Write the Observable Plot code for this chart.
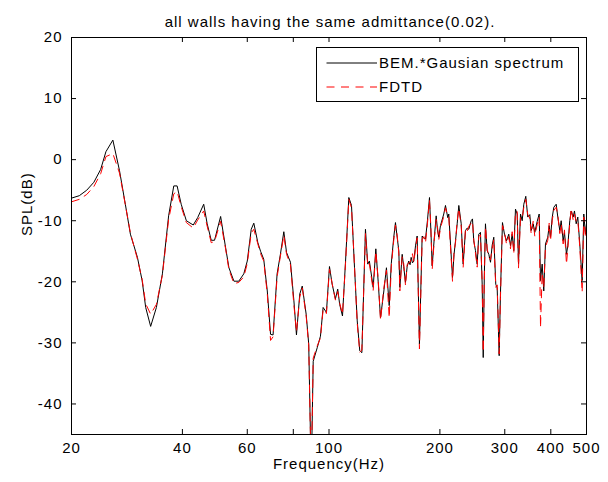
<!DOCTYPE html>
<html>
<head>
<meta charset="utf-8">
<script src="https://cdn.jsdelivr.net/npm/d3@7"></script>
<script src="https://cdn.jsdelivr.net/npm/@observablehq/plot@0.6"></script>
<style>
  body { margin: 0; background: #fff; }
  #title {
    box-sizing: border-box; width: 608px; height: 30px;
    padding: 14px 0 0 52px;
    font: 15px "Liberation Sans", Arial, sans-serif; letter-spacing: 1px;
    line-height: 15px; text-align: center; white-space: nowrap; color: #000;
  }
</style>
</head>
<body>
<div id="title">all walls having the same admittance(0.02).</div>
<div id="chart"></div>
<script>
// Frequency samples (Hz)
const freq = [
  20, 21, 22, 23, 24, 24.8, 25.9, 27, 28, 28.9,
  30.2, 31.1, 31.8, 32.8, 34, 35.3, 36.7, 37.9, 38.7, 39.7,
  41, 42.8, 44, 45.7, 46.7, 47.9, 48.9, 50.8, 52.4, 53.5,
  55.2, 56.9, 58.7, 60, 61.5, 62.5, 64.1, 65.2, 66.5, 68,
  69.4, 70.5, 72.3, 73.8, 75.4, 76.7, 78.6, 80.3, 81.6, 83.3,
  84.6, 86.7, 88.1, 89.5, 90.6, 92.9, 94.8, 96.4, 98.4, 100.3,
  102, 104.1, 105.6, 106.9, 108.8, 110.9, 113.2, 115.1, 117.3, 119.3,
  121.2, 122.8, 125.6, 127.4, 128.7, 131.8, 134, 136, 138, 140.9,
  143.2, 145.7, 147.6, 149.9, 151.5, 153.2, 154.7, 155.7, 158, 159.5,
  161.3, 163, 164.6, 166, 167.1, 168.5, 169.9, 171.8, 173.5, 176,
  179, 181, 182.8, 185, 187.4, 189, 190.6, 193, 195.4, 197,
  198.6, 200.7, 204.9, 207.1, 210.1, 211.4, 213.7, 216.4, 218.5, 220.5,
  222.8, 225.1, 228.5, 231.3, 234.7, 237.2, 239.6, 243.2, 245.2, 247.1,
  249.8, 252.5, 255.0, 257.7, 260.5, 262.2, 264, 265.9, 268.7, 271.5,
  274.4, 277.3, 280.1, 283.6, 286.1, 289.7, 292.0, 295.7, 299.4, 303.2,
  307.6, 310.9, 314.2, 317.4, 320.8, 324.2, 326.9, 331.0, 334.5, 337.9,
  342.1, 346.4, 350.8, 353.8, 358.3, 361.9, 367.4, 372.0, 375.1, 379.0,
  382.8, 386.9, 392.5, 396.0, 399.3, 403.5, 407.6, 413.7, 417.9, 423.1,
  426.8, 432.2, 435.7, 441.2, 444.8, 450.4, 454.3, 460.0, 463.8, 468.8,
  473.5, 479.4, 486.6, 491.6, 496.8, 500
];
// BEM.*Gausian spectrum (dB)
const bem = [
  -6.3, -5.9, -5.0, -3.7, -1.6, 1.3, 3.2, -1.8, -7.3, -12.2,
  -16.0, -19.8, -24.2, -27.3, -24.2, -18.7, -9.2, -4.3, -4.3, -7.3,
  -10.0, -10.7, -9.5, -7.3, -10.5, -13.2, -13.2, -9.3, -14.4, -17.7,
  -19.9, -19.9, -18.7, -16.6, -11.4, -10.4, -13.6, -15.0, -16.3, -21.5,
  -28.6, -28.7, -18.7, -15.5, -11.8, -15.2, -16.8, -23.1, -28.7, -22.0,
  -20.7, -25.3, -30.2, -52, -33.0, -30.8, -28.9, -24.2, -25.0, -17.5,
  -20.4, -22.8, -21.2, -23.7, -25.6, -16.6, -6.2, -7.5, -17.7, -26.4,
  -31.3, -31.6, -11.4, -17.1, -16.6, -20.9, -14.6, -20.0, -25.9, -21.5,
  -17.7, -23.9, -17.0, -12.7, -10.3, -12.8, -14.9, -20.9, -15.5, -17.5,
  -20.1, -17.5, -16.6, -17.2, -16.0, -16.9, -16.6, -14.0, -12.5, -30.2,
  -12.5, -12.9, -13.0, -10.0, -6.2, -11.5, -17.4, -13.0, -9.2, -11.5,
  -12.7, -10.8, -8.9, -7.5, -9.5, -8.9, -13.8, -19.3, -15.5, -13.3,
  -10.5, -7.5, -10.5, -17.1, -11.6, -11.2, -11.4, -10.0, -9.7, -13.3,
  -14.9, -17.1, -12.2, -11.9, -20.4, -32.4, -19.0, -10.5, -14.9, -15.5,
  -16.8, -14.0, -12.7, -20.4, -21.0, -32.1, -22.0, -10.3, -12.2, -13.3,
  -12.2, -14.1, -12.2, -14.9, -8.1, -8.9, -17.1, -8.9, -10.0, -7.3,
  -6.0, -9.4, -9.0, -11.6, -10.5, -11.9, -10.1, -8.9, -19.8, -17.1,
  -21.5, -13.8, -12.7, -10.8, -12.7, -9.5, -7.8, -7.3, -9.4, -11.6,
  -10.0, -13.3, -11.9, -15.5, -14.1, -10.0, -8.4, -9.4, -8.4, -10.5,
  -9.4, -13.8, -19.8, -8.9, -12.2, -10.5
];
// FDTD (dB)
const fdtd = [
  -6.9, -6.5, -5.7, -4.4, -2.3, 0.5, 1.0, -2.2, -7.4, -12.0,
  -16.3, -19.6, -23.6, -25.3, -23.7, -18.9, -9.8, -5.6, -5.2, -7.7,
  -10.3, -11.2, -9.9, -8.4, -10.9, -13.6, -13.4, -10.1, -14.6, -18.0,
  -20.3, -20.1, -19.2, -17.0, -12.0, -11.4, -13.8, -15.4, -16.6, -22.0,
  -29.6, -29.0, -19.2, -15.8, -12.4, -15.5, -17.2, -23.8, -28.2, -22.5,
  -21.0, -25.6, -30.4, -52, -32.5, -30.5, -29.2, -24.5, -25.2, -17.9,
  -20.3, -23.0, -21.6, -23.5, -25.3, -16.9, -6.5, -7.9, -17.5, -26.8,
  -31.5, -31.2, -12.1, -17.4, -17.0, -21.4, -15.0, -19.6, -26.3, -21.0,
  -18.1, -25.9, -17.5, -13.2, -10.7, -12.5, -15.3, -21.5, -15.9, -17.0,
  -20.6, -17.2, -16.9, -16.8, -16.3, -15.4, -16.8, -14.5, -12.8, -31.0,
  -13.0, -12.6, -13.6, -10.5, -6.6, -11.0, -18.0, -13.3, -9.8, -11.0,
  -13.1, -11.2, -9.3, -7.9, -9.2, -9.4, -14.3, -19.9, -15.0, -13.6,
  -10.0, -8.0, -10.9, -17.6, -11.3, -11.7, -10.9, -10.4, -10.1, -13.0,
  -15.3, -17.6, -12.6, -12.3, -20.0, -31.5, -19.6, -11.0, -14.5, -16.0,
  -16.4, -14.6, -13.1, -20.9, -20.5, -31.8, -22.6, -10.8, -11.8, -13.8,
  -12.6, -14.6, -11.8, -15.4, -8.6, -8.5, -17.7, -9.4, -9.6, -7.8,
  -6.5, -9.0, -9.6, -12.1, -10.1, -12.5, -10.6, -9.4, -27.5, -18.5,
  -21.0, -14.3, -13.2, -10.4, -13.3, -10.0, -8.3, -7.8, -9.0, -12.1,
  -10.5, -13.8, -11.5, -17.1, -14.6, -10.5, -8.0, -9.9, -8.9, -10.1,
  -9.9, -14.3, -21.7, -9.4, -12.7, -11.0
];
// Axis ticks
const xTicks = [20, 40, 60, 80, 100, 200, 300, 400, 500];
const yTicks = [-40, -30, -20, -10, 0, 10, 20];
const seriesNames = ["BEM.*Gausian spectrum", "FDTD"];
const xLabel = "Frequency(Hz)";
const yLabel = "SPL(dB)";

const rows = freq.map((f, i) => ({f, bem: bem[i], fdtd: fdtd[i]}));

const W = 608, H = 452, mT = 7, mB = 48, mL = 71, mR = 22;
const innerW = W - mL - mR, innerH = H - mT - mB;
const tick = 5;
const font = '"Liberation Sans", Arial, sans-serif';

const chart = Plot.plot({
  width: W, height: H,
  marginTop: mT, marginBottom: mB, marginLeft: mL, marginRight: mR,
  style: {fontFamily: font, fontSize: "15px", letterSpacing: "1px", color: "black", background: "white", overflow: "visible"},
  x: {type: "log", domain: [20, 500]},
  y: {domain: [-45, 20]},
  marks: [
    Plot.line(rows, {x: "f", y: "bem", stroke: "black", strokeWidth: 1, clip: true}),
    Plot.line(rows, {x: "f", y: "fdtd", stroke: "#ff0000", strokeWidth: 1, strokeDasharray: "8,6", clip: true}),
    Plot.frame({stroke: "black", strokeWidth: 1}),
    Plot.ruleX(xTicks, {x: d => d, insetTop: innerH - tick, stroke: "black"}),
    Plot.ruleX(xTicks, {x: d => d, insetBottom: innerH - tick, stroke: "black"}),
    Plot.ruleY(yTicks, {y: d => d, insetRight: innerW - tick, stroke: "black"}),
    Plot.ruleY(yTicks, {y: d => d, insetLeft: innerW - tick, stroke: "black"}),
    Plot.axisX({ticks: xTicks, tickSize: 0, tickPadding: 8, tickFormat: d => String(d), label: null}),
    Plot.axisY({ticks: yTicks, tickSize: 0, tickPadding: 9, tickFormat: d => String(d), label: null}),
    Plot.text([xLabel], {text: d => d, frameAnchor: "bottom", dy: 34}),
    Plot.text([yLabel], {text: d => d, frameAnchor: "left", dx: -44, rotate: -90})
  ]
});
document.getElementById("chart").appendChild(chart);

// Legend box (MATLAB style), drawn inside the plot svg
const svg = d3.select(chart);
const lg = svg.append("g")
  .attr("font-family", font).attr("font-size", 15).attr("text-anchor", "start")
  .style("letter-spacing", "1px");
lg.append("rect").attr("x", 316.5).attr("y", 17.5).attr("width", 262).attr("height", 54)
  .attr("fill", "white").attr("stroke", "black").attr("stroke-width", 1);
lg.append("line").attr("x1", 326.5).attr("x2", 377).attr("y1", 33).attr("y2", 33)
  .attr("stroke", "black").attr("stroke-width", 1);
lg.append("text").attr("x", 379).attr("y", 38).attr("fill", "black").attr("text-anchor", "start").text(seriesNames[0]);
lg.append("line").attr("x1", 326.5).attr("x2", 377).attr("y1", 57).attr("y2", 57)
  .attr("stroke", "#ff0000").attr("stroke-width", 1).attr("stroke-dasharray", "8,6.5");
lg.append("text").attr("x", 379).attr("y", 62).attr("fill", "black").attr("text-anchor", "start").text(seriesNames[1]);
</script>
</body>
</html>
